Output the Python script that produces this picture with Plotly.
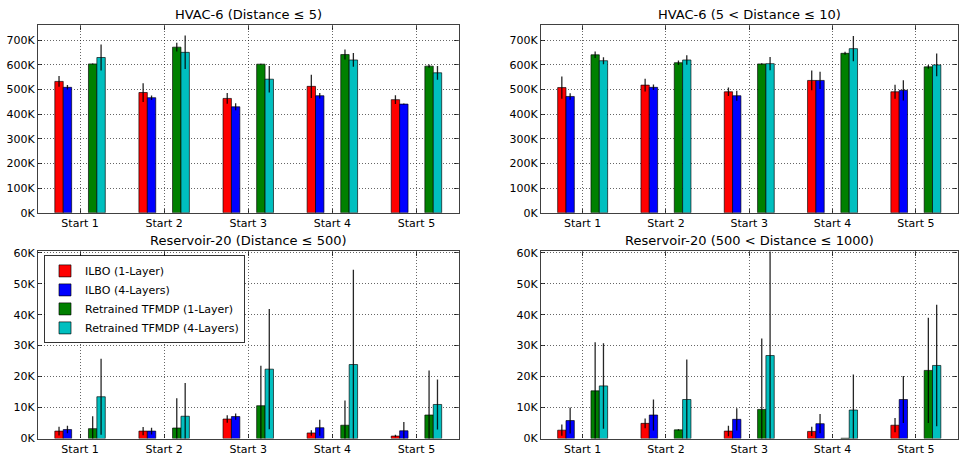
import plotly.graph_objects as go

categories = ["Start 1", "Start 2", "Start 3", "Start 4", "Start 5"]
series_names = ["ILBO (1-Layer)", "ILBO (4-Layers)",
                "Retrained TFMDP (1-Layer)", "Retrained TFMDP (4-Layers)"]
panel_titles = ["HVAC-6 (Distance \u2264 5)", "HVAC-6 (5 < Distance \u2264 10)",
                "Reservoir-20 (Distance \u2264 500)", "Reservoir-20 (500 < Distance \u2264 1000)"]

# HVAC-6 (Distance <= 5)
hvac_a_ilbo1 = [533e3, 488e3, 464e3, 513e3, 459e3]
hvac_a_ilbo1_err = [22e3, 38e3, 22e3, 47e3, 18e3]
hvac_a_ilbo4 = [509e3, 467e3, 430e3, 475e3, 441e3]
hvac_a_ilbo4_err = [9e3, 9e3, 14e3, 11e3, 2e3]
hvac_a_tf1 = [604e3, 672e3, 603e3, 642e3, 595e3]
hvac_a_tf1_err = [2e3, 18e3, 2e3, 20e3, 7e3]
hvac_a_tf4 = [630e3, 651e3, 542e3, 620e3, 568e3]
hvac_a_tf4_err = [53e3, 68e3, 54e3, 28e3, 28e3]

# HVAC-6 (5 < Distance <= 10)
hvac_b_ilbo1 = [508e3, 518e3, 491e3, 537e3, 491e3]
hvac_b_ilbo1_err = [45e3, 26e3, 17e3, 40e3, 28e3]
hvac_b_ilbo4 = [472e3, 509e3, 475e3, 537e3, 497e3]
hvac_b_ilbo4_err = [13e3, 11e3, 20e3, 35e3, 41e3]
hvac_b_tf1 = [641e3, 609e3, 604e3, 647e3, 592e3]
hvac_b_tf1_err = [13e3, 9e3, 3e3, 6e3, 8e3]
hvac_b_tf4 = [617e3, 620e3, 605e3, 666e3, 600e3]
hvac_b_tf4_err = [14e3, 19e3, 27e3, 51e3, 46e3]

# Reservoir-20 (Distance <= 500)
res_a_ilbo1 = [2.4e3, 2.4e3, 6.3e3, 1.8e3, 0.8e3]
res_a_ilbo1_err = [1.4e3, 1.3e3, 1.2e3, 0.9e3, 0.4e3]
res_a_ilbo4 = [2.9e3, 2.4e3, 7.1e3, 3.5e3, 2.5e3]
res_a_ilbo4_err = [1.2e3, 1.1e3, 1.0e3, 2.6e3, 2.8e3]
res_a_tf1 = [3.2e3, 3.4e3, 10.6e3, 4.3e3, 7.6e3]
res_a_tf1_err = [4.0e3, 9.6e3, 12.9e3, 8.0e3, 14.4e3]
res_a_tf4 = [13.5e3, 7.2e3, 22.4e3, 23.9e3, 11.0e3]
res_a_tf4_err = [12.3e3, 10.7e3, 19.4e3, 30.6e3, 8.1e3]

# Reservoir-20 (500 < Distance <= 1000)
res_b_ilbo1 = [2.7e3, 4.9e3, 2.4e3, 2.3e3, 4.3e3]
res_b_ilbo1_err = [1.8e3, 1.6e3, 1.7e3, 1.5e3, 2.3e3]
res_b_ilbo4 = [5.8e3, 7.6e3, 6.2e3, 4.8e3, 12.6e3]
res_b_ilbo4_err = [4.2e3, 5.0e3, 3.6e3, 3.1e3, 7.6e3]
res_b_tf1 = [15.4e3, 2.8e3, 9.4e3, 0.1e3, 22.0e3]
res_b_tf1_err = [15.7e3, 0.2e3, 22.9e3, 0.0, 17.0e3]
res_b_tf4 = [17.0e3, 12.6e3, 26.8e3, 9.2e3, 23.6e3]
res_b_tf4_err = [13.8e3, 12.9e3, 36.0e3, 11.5e3, 19.6e3]

hvac_tick_vals = [0, 100e3, 200e3, 300e3, 400e3, 500e3, 600e3, 700e3]
hvac_tick_text = ["0K", "100K", "200K", "300K", "400K", "500K", "600K", "700K"]
res_tick_vals = [0, 10e3, 20e3, 30e3, 40e3, 50e3, 60e3]
res_tick_text = ["0K", "10K", "20K", "30K", "40K", "50K", "60K"]

panels = [
    [(hvac_a_ilbo1, hvac_a_ilbo1_err), (hvac_a_ilbo4, hvac_a_ilbo4_err),
     (hvac_a_tf1, hvac_a_tf1_err), (hvac_a_tf4, hvac_a_tf4_err)],
    [(hvac_b_ilbo1, hvac_b_ilbo1_err), (hvac_b_ilbo4, hvac_b_ilbo4_err),
     (hvac_b_tf1, hvac_b_tf1_err), (hvac_b_tf4, hvac_b_tf4_err)],
    [(res_a_ilbo1, res_a_ilbo1_err), (res_a_ilbo4, res_a_ilbo4_err),
     (res_a_tf1, res_a_tf1_err), (res_a_tf4, res_a_tf4_err)],
    [(res_b_ilbo1, res_b_ilbo1_err), (res_b_ilbo4, res_b_ilbo4_err),
     (res_b_tf1, res_b_tf1_err), (res_b_tf4, res_b_tf4_err)],
]

# styling
colors = ["#ff0000", "#0000ff", "#008000", "#00bfbf"]
bar_offsets = [-0.3, -0.2, 0.1, 0.2]
bar_width = 0.1
W, H = 968, 466
FONT = "DejaVu Sans"
GRID = dict(showgrid=True, gridcolor="rgba(0,0,0,0.6)", griddash="1px,2px", gridwidth=1)

x_domains = [[38 / W, 458.5 / W], [541 / W, 957.5 / W], [38 / W, 458.5 / W], [541 / W, 957.5 / W]]
y_domains = [[1 - 213.3 / H, 1 - 21 / H], [1 - 213.3 / H, 1 - 21 / H],
             [1 - 445 / H, 1 - 253 / H], [1 - 445 / H, 1 - 253 / H]]
y_ranges = [[0, 760e3], [0, 760e3], [0, 60.4e3], [0, 60.4e3]]

fig = go.Figure()
for p, series in enumerate(panels):
    ax = "" if p == 0 else str(p + 1)
    for s, (vals, errs) in enumerate(series):
        fig.add_trace(go.Bar(
            x=categories, y=vals,
            width=bar_width, offset=bar_offsets[s],
            name=series_names[s], legendgroup=series_names[s],
            showlegend=(p == 2),
            marker=dict(color=colors[s], line=dict(color="rgba(0,0,0,0.65)", width=1)),
            error_y=dict(type="data", array=errs, visible=True,
                         color="rgba(0,0,0,0.85)", thickness=1.3, width=0),
            xaxis="x" + ax, yaxis="y" + ax,
        ))

layout = dict(
    width=W, height=H, autosize=False,
    margin=dict(l=0, r=0, t=0, b=0),
    paper_bgcolor="white", plot_bgcolor="white",
    barmode="overlay",
    font=dict(family=FONT, size=11, color="black"),
    showlegend=True,
    legend=dict(x=44 / W, y=1 - 257 / H, xanchor="left", yanchor="top",
                bgcolor="white", bordercolor="rgba(0,0,0,0.8)", borderwidth=1,
                font=dict(family=FONT, size=11, color="black"),
                tracegroupgap=0, itemwidth=30),
    annotations=[],
)

for p in range(4):
    ax = "" if p == 0 else str(p + 1)
    tv = hvac_tick_vals if p < 2 else res_tick_vals
    tt = hvac_tick_text if p < 2 else res_tick_text
    layout["xaxis" + ax] = dict(
        domain=x_domains[p], anchor="y" + ax, type="category",
        range=[-0.5, 4.5], **GRID,
        showline=True, linecolor="rgba(0,0,0,0.75)",
        linewidth=1.3, mirror="ticks", ticks="inside", ticklen=4,
        tickcolor="rgba(0,0,0,0.75)", tickfont=dict(family=FONT, size=11, color="black"),
        fixedrange=True, zeroline=False,
    )
    layout["yaxis" + ax] = dict(
        domain=y_domains[p], anchor="x" + ax, range=y_ranges[p],
        tickvals=tv, ticktext=tt, **GRID,
        showline=True, linecolor="rgba(0,0,0,0.75)",
        linewidth=1.3, mirror="ticks", ticks="inside", ticklen=4,
        tickcolor="rgba(0,0,0,0.75)", tickfont=dict(family=FONT, size=11, color="black"),
        zeroline=False, fixedrange=True,
    )
    layout["annotations"].append(dict(
        text=panel_titles[p], xref="paper", yref="paper",
        x=sum(x_domains[p]) / 2, y=y_domains[p][1], xanchor="center", yanchor="bottom",
        yshift=1, showarrow=False, font=dict(family=FONT, size=13, color="black"),
    ))

fig.update_layout(**layout)
fig.write_html("out.html", config={"displayModeBar": False},
               post_script="document.body.style.margin='0';")
